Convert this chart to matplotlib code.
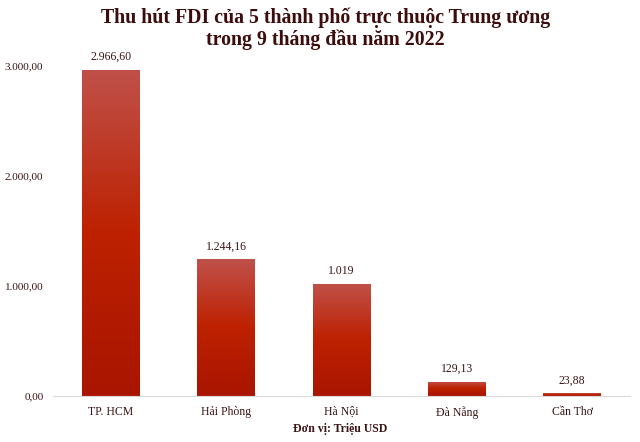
import numpy as np
import matplotlib.pyplot as plt
from matplotlib.colors import LinearSegmentedColormap
from matplotlib.patches import Rectangle

cities = ["TP. HCM", "Hải Phòng", "Hà Nội", "Đà Nẵng", "Cần Thơ"]
fdi = [2966.60, 1244.16, 1019, 129.13, 23.88]
value_labels = ["2.966,60", "1.244,16", "1.019", "129,13", "23,88"]
yticks = [0, 1000, 2000, 3000]
ytick_labels = ["0,00", "1.000,00", "2.000,00", "3.000,00"]

plt.rcParams['font.family'] = ['Liberation Serif', 'DejaVu Serif']

fig = plt.figure(figsize=(6.4, 4.42), dpi=100)
ax = fig.add_axes([0.083, 0.104, 0.901, 0.747])

text_col = "#3a1414"
grad = LinearSegmentedColormap.from_list(
    "bar", [(0.0, "#a91500"), (0.5, "#bd2100"), (1.0, "#c0514a")])
img = np.linspace(0, 1, 256).reshape(-1, 1)

width = 0.5
for i, v in enumerate(fdi):
    rect = Rectangle((i - width / 2, 0), width, v, facecolor="none", edgecolor="none")
    ax.add_patch(rect)
    im = ax.imshow(img, cmap=grad, origin="lower", aspect="auto",
                   extent=(i - width / 2, i + width / 2, 0, v), zorder=2)
    im.set_clip_path(rect)
    ax.text(i, v + 60, value_labels[i], ha="center", va="bottom",
            fontsize=8.5, color=text_col, clip_on=False)

ax.set_xlim(-0.5, 4.5)
ax.set_ylim(0, 3000)
ax.set_xticks(range(len(cities)))
ax.set_xticklabels(cities, fontsize=8.5, color=text_col)
ax.set_yticks(yticks)
ax.set_yticklabels(ytick_labels, fontsize=8, color=text_col)
ax.tick_params(length=0, pad=7)

for s in ["top", "right", "left"]:
    ax.spines[s].set_visible(False)
ax.spines["bottom"].set_color("#d9d9d9")

fig.text(0.509, 0.982, "Thu hút FDI của 5 thành phố trực thuộc Trung ương\ntrong 9 tháng đầu năm 2022",
         ha="center", va="top", fontsize=14.3, fontweight="bold", color="#3d0c0c",
         linespacing=1.08)
fig.text(0.532, 0.03, "Đơn vị: Triệu USD", ha="center", va="center",
         fontsize=8.5, fontweight="bold", color=text_col)

fig.savefig("out.png", dpi=100)
